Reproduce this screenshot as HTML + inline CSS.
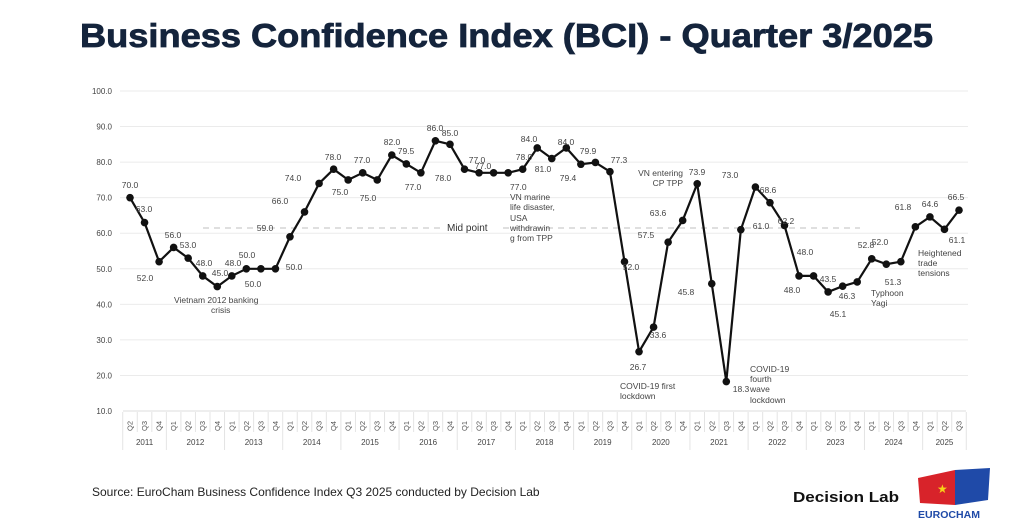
<!DOCTYPE html>
<html><head><meta charset="utf-8"><style>
html,body{margin:0;padding:0;background:#fff;}
svg{display:block;font-family:"Liberation Sans",sans-serif;}
</style></head><body>
<svg id="s" width="1024" height="532" viewBox="0 0 1024 532" xmlns="http://www.w3.org/2000/svg">
<rect width="1024" height="532" fill="#fff"/>
<text x="80" y="47" font-size="33" font-weight="bold" fill="#14243c" stroke="#14243c" stroke-width="0.8" textLength="853" lengthAdjust="spacingAndGlyphs">Business Confidence Index (BCI) - Quarter 3/2025</text>
<g id="grid"></g>
<g id="axis"></g>
<line x1="203" y1="228" x2="440" y2="228" stroke="#ccc" stroke-width="1.3" stroke-dasharray="6,5"/>
<text x="447" y="231" font-size="10" fill="#333">Mid point</text>
<line x1="503" y1="228" x2="860" y2="228" stroke="#ccc" stroke-width="1.3" stroke-dasharray="6,5"/>
<g id="series"></g>
<g id="labels" font-size="8.5" fill="#444"></g>
<text x="92" y="496" font-size="12" fill="#222">Source: EuroCham Business Confidence Index Q3 2025 conducted by Decision Lab</text>
<text x="793" y="502" font-size="15" font-weight="bold" fill="#111" textLength="106" lengthAdjust="spacingAndGlyphs">Decision Lab</text>
<g>
<path d="M918 478 L955 470 L955 505 L920 503 Z" fill="#d8232a"/>
<path d="M955 470 L990 468 L988 500 L955 505 Z" fill="#1f4aa8"/>
<text x="937" y="493" font-size="12" fill="#f7d117">★</text>
<text x="918" y="518" font-size="10.5" font-weight="bold" fill="#1f4aa8" textLength="62" lengthAdjust="spacingAndGlyphs">EUROCHAM</text>
</g>
</svg>
<script>
const NS="http://www.w3.org/2000/svg";
function el(p,t,a,txt){const e=document.createElementNS(NS,t);for(const k in a)e.setAttribute(k,a[k]);if(txt!==undefined)e.textContent=txt;document.getElementById(p).appendChild(e);return e;}
const Y=v=>91+(100-v)*3.556, X=i=>130+i*14.544;
for(let v=10;v<=100;v+=10){
 if(v>10) el("grid","line",{x1:120,x2:968,y1:Y(v),y2:Y(v),stroke:"#ebebeb","stroke-width":1});
 el("grid","text",{x:112,y:Y(v)+3,"font-size":8,fill:"#444","text-anchor":"end"},v.toFixed(1));
}
const data=[70,63,52,56,53,48,45,48,50,50,50,59,66,74,78,75,77,75,82,79.5,77,86,85,78,77,77,77,78,84,81,84,79.4,79.9,77.3,52,26.7,33.6,57.5,63.6,73.9,45.8,18.3,61,73,68.6,62.2,48,48,43.5,45.1,46.3,52.8,51.3,52,61.8,64.6,61.1,66.5];
el("axis","line",{x1:123,x2:966,y1:411,y2:411,stroke:"#ddd"});
const qs=["Q2","Q3","Q4"];for(let y=0;y<13;y++)qs.push("Q1","Q2","Q3","Q4");qs.push("Q1","Q2","Q3");
qs.forEach((q,i)=>{const x=X(i);
 el("axis","text",{x:x,y:426,"font-size":7.5,fill:"#555","text-anchor":"middle",transform:`rotate(-90 ${x} 426) translate(0 2.5)`},q);
 el("axis","line",{x1:x+7.27,x2:x+7.27,y1:412,y2:432,stroke:"#e4e4e4"});
});
el("axis","line",{x1:X(0)-7.27,x2:X(0)-7.27,y1:412,y2:450,stroke:"#e4e4e4"});
let i0=0;for(let yr=2011;yr<=2025;yr++){const n=yr==2011?3:(yr==2025?3:4);const a=X(i0)-7.27,b=X(i0+n-1)+7.27;
 el("axis","text",{x:(a+b)/2,y:445,"font-size":8,fill:"#444","text-anchor":"middle"},yr);
 el("axis","line",{x1:b,x2:b,y1:432,y2:450,stroke:"#e4e4e4"});i0+=n;}
el("series","polyline",{points:data.map((v,i)=>X(i)+","+Y(v)).join(" "),fill:"none",stroke:"#111","stroke-width":2.2});
data.forEach((v,i)=>el("series","circle",{cx:X(i),cy:Y(v),r:3.8,fill:"#111"}));
const L=[["70.0",130,188],["63.0",144,212],["52.0",145,281],["56.0",173,238],["53.0",188,248],["48.0",204,266],["45.0",220,276],["48.0",233,266],["50.0",247,258],["50.0",253,287],["50.0",294,270],["59.0",265,231],["66.0",280,204],["74.0",293,181],["78.0",333,160],["75.0",340,195],["77.0",362,163],["75.0",368,201],["82.0",392,145],["79.5",406,154],["77.0",413,190],["86.0",435,131],["85.0",450,136],["78.0",443,181],["77.0",477,163],["77.0",483,169],["78.0",524,160],["84.0",529,142],["81.0",543,172],["84.0",566,145],["79.4",568,181],["79.9",588,154],["77.3",619,163],["52.0",631,270],["26.7",638,370],["33.6",658,338],["57.5",646,238],["63.6",658,216],["73.9",697,175],["45.8",686,295],["18.3",741,392],["73.0",730,178],["61.0",761,229],["68.6",768,193],["62.2",786,224],["48.0",805,255],["48.0",792,293],["43.5",828,282],["45.1",838,317],["46.3",847,299],["52.8",866,248],["51.3",893,285],["52.0",880,245],["61.8",903,210],["64.6",930,207],["66.5",956,200],["61.1",957,243]];
L.forEach(a=>el("labels","text",{x:a[1],y:a[2],"text-anchor":"middle"},a[0]));
const A=[["77.0",510,190],["VN marine",510,200],["life disaster,",510,210],["USA",510,221],["withdrawin",510,231],["g from TPP",510,241],
["COVID-19 first",620,389],["lockdown",620,399],["COVID-19",750,372],["fourth",750,382],["wave",750,392],["lockdown",750,403],
["Typhoon",871,296],["Yagi",871,306],["Heightened",918,256],["trade",918,266],["tensions",918,276],
["Vietnam 2012 banking",174,303],["crisis",211,313]];
A.forEach(a=>el("labels","text",{x:a[1],y:a[2]},a[0]));
el("labels","text",{x:683,y:176,"text-anchor":"end"},"VN entering");
el("labels","text",{x:683,y:186,"text-anchor":"end"},"CP TPP");
</script>
</body></html>
